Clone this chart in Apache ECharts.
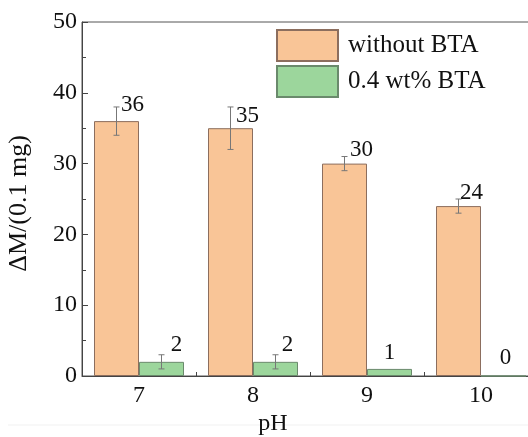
<!DOCTYPE html>
<html>
<head>
<meta charset="utf-8">
<script src="https://cdn.jsdelivr.net/npm/echarts@6/dist/echarts.min.js"></script>
<style>
  html, body { margin: 0; padding: 0; background: #fff; }
  #chart { width: 528px; height: 437px; }
</style>
</head>
<body>
<div id="chart"></div>
<script>
// pH categories and mass loss values (unit: 0.1 mg)
const categories = ['7', '8', '9', '10'];
const withoutBTA = [36, 35, 30, 24];
const withBTA = [2, 2, 1, 0];
// error bar ranges
const withoutLow = [34, 32, 29, 23];
const withoutHigh = [38, 38, 31, 25];
const withLow = [1, 1, null, null];
const withHigh = [3, 3, null, null];
const seriesNames = ['without BTA', '0.4 wt% BTA'];

// label nudges [dx, dy] per bar
const shiftWithout = [[16, 0], [17, 4], [17, 3], [13, 3]];
const shiftWith = [[15, 0], [12, 0], [0, 1], [2, -1]];

const FONT = 'Liberation Serif';
const BAR_W = 45;

const chart = echarts.init(document.getElementById('chart'), null, { renderer: 'canvas' });

function errorSeries(low, high, side) {
  const rows = [];
  low.forEach((l, i) => { if (l != null) rows.push([i, l, high[i]]); });
  return {
    type: 'custom',
    silent: true,
    z: 5,
    encode: { x: 0, y: [1, 2] },
    data: rows,
    renderItem: function (params, api) {
      const c = api.coord([api.value(0), api.value(1)]);
      const x = c[0] + side * BAR_W / 2;
      const yLow = c[1];
      const yHigh = api.coord([api.value(0), api.value(2)])[1];
      const cap = 3;
      const style = { stroke: '#777', lineWidth: 1, fill: null };
      return {
        type: 'group',
        children: [
          { type: 'line', shape: { x1: x, y1: yLow, x2: x, y2: yHigh }, style: style },
          { type: 'line', shape: { x1: x - cap, y1: yLow, x2: x + cap, y2: yLow }, style: style },
          { type: 'line', shape: { x1: x - cap, y1: yHigh, x2: x + cap, y2: yHigh }, style: style }
        ]
      };
    }
  };
}

function labelled(values, shifts) {
  return values.map((v, i) => ({
    value: v,
    label: { offset: shifts[i] }
  }));
}

const labelBase = {
  show: true,
  position: 'top',
  distance: 5,
  fontFamily: FONT,
  fontSize: 23,
  color: '#111'
};

chart.setOption({
  animation: false,
  backgroundColor: '#fff',
  textStyle: { fontFamily: FONT },
  grid: {
    left: 82, top: 22, width: 456, height: 354,
    outerBoundsMode: 'none',
    containLabel: false,
    show: true, borderColor: '#555', borderWidth: 1, backgroundColor: 'transparent'
  },
  legend: {
    orient: 'vertical',
    left: 276, top: 29,
    padding: 0,
    itemWidth: 61, itemHeight: 31, itemGap: 3,
    data: seriesNames,
    textStyle: { fontFamily: FONT, fontSize: 25, color: '#111', padding: [0, 0, 0, 5] },
    icon: 'rect'
  },
  xAxis: {
    type: 'category',
    data: categories,
    axisLine: { lineStyle: { color: '#444', width: 1 } },
    axisTick: { show: true, inside: true, length: 4, alignWithLabel: false, lineStyle: { color: '#444' } },
    axisLabel: { fontFamily: FONT, fontSize: 24, color: '#111', margin: 8 },
    splitLine: { show: false }
  },
  yAxis: {
    type: 'value',
    min: 0, max: 50, interval: 10,
    name: 'ΔM/(0.1 mg)',
    nameLocation: 'middle',
    nameGap: 50,
    nameRotate: 90,
    nameTextStyle: { fontFamily: FONT, fontSize: 26, color: '#111', padding: [0, 9, 0, 0] },
    axisLine: { show: true, lineStyle: { color: '#444', width: 1 } },
    axisTick: { show: true, inside: true, length: 6, lineStyle: { color: '#444' } },
    minorTick: { show: true, splitNumber: 2, length: 4, lineStyle: { color: '#444' } },
    axisLabel: { fontFamily: FONT, fontSize: 24, color: '#111', margin: 5 },
    splitLine: { show: false }
  },
  graphic: [
    {
      type: 'line',
      shape: { x1: 8, y1: 425, x2: 528, y2: 425 },
      style: { stroke: '#f1f1f1', lineWidth: 1 },
      z: -1
    },
    {
      type: 'text',
      x: 273, y: 424,
      style: {
        text: 'pH',
        fontFamily: FONT, fontSize: 24, fill: '#111',
        align: 'center', verticalAlign: 'middle'
      }
    }
  ],
  series: [
    {
      name: seriesNames[0],
      type: 'bar',
      barWidth: BAR_W,
      barGap: '0%',
      data: labelled(withoutBTA, shiftWithout),
      itemStyle: { color: '#F9C597', borderColor: '#8C6E5E', borderWidth: 1 },
      label: labelBase
    },
    {
      name: seriesNames[1],
      type: 'bar',
      barWidth: BAR_W,
      barGap: '0%',
      data: labelled(withBTA, shiftWith),
      itemStyle: { color: '#9CD69C', borderColor: '#6A8A6C', borderWidth: 1 },
      label: labelBase
    },
    errorSeries(withoutLow, withoutHigh, -1),
    errorSeries(withLow, withHigh, 1)
  ]
});
</script>
</body>
</html>
